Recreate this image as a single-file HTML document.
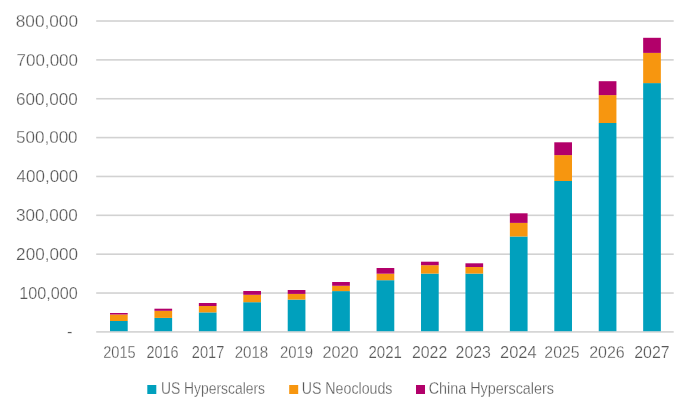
<!DOCTYPE html>
<html><head><meta charset="utf-8"><style>
html,body{margin:0;padding:0;background:#fff;}
body{width:695px;height:401px;overflow:hidden;}
svg{display:block;will-change:transform;}
text{font-family:"Liberation Sans",sans-serif;fill:#595959;stroke:#fff;stroke-width:0.25px;}
</style></head><body>
<svg width="695" height="401" viewBox="0 0 695 401">
<rect width="695" height="401" fill="#fff"/>
<rect x="96.2" y="331.10" width="577.50" height="1.6" fill="#d2d2d2"/>
<rect x="96.2" y="292.24" width="577.50" height="1.6" fill="#d2d2d2"/>
<rect x="96.2" y="253.38" width="577.50" height="1.6" fill="#d2d2d2"/>
<rect x="96.2" y="214.52" width="577.50" height="1.6" fill="#d2d2d2"/>
<rect x="96.2" y="175.66" width="577.50" height="1.6" fill="#d2d2d2"/>
<rect x="96.2" y="136.80" width="577.50" height="1.6" fill="#d2d2d2"/>
<rect x="96.2" y="97.94" width="577.50" height="1.6" fill="#d2d2d2"/>
<rect x="96.2" y="59.08" width="577.50" height="1.6" fill="#d2d2d2"/>
<rect x="96.2" y="20.22" width="577.50" height="1.6" fill="#d2d2d2"/>
<rect x="110.00" y="321.00" width="17.7" height="10.20" fill="#00a0bd"/>
<rect x="110.00" y="314.50" width="17.7" height="6.50" fill="#f7960f"/>
<rect x="110.00" y="313.00" width="17.7" height="1.50" fill="#b2006a"/>
<rect x="154.43" y="317.90" width="17.7" height="13.30" fill="#00a0bd"/>
<rect x="154.43" y="310.80" width="17.7" height="7.10" fill="#f7960f"/>
<rect x="154.43" y="308.70" width="17.7" height="2.10" fill="#b2006a"/>
<rect x="198.86" y="312.40" width="17.7" height="18.80" fill="#00a0bd"/>
<rect x="198.86" y="306.00" width="17.7" height="6.40" fill="#f7960f"/>
<rect x="198.86" y="303.00" width="17.7" height="3.00" fill="#b2006a"/>
<rect x="243.29" y="302.20" width="17.7" height="29.00" fill="#00a0bd"/>
<rect x="243.29" y="294.80" width="17.7" height="7.40" fill="#f7960f"/>
<rect x="243.29" y="291.00" width="17.7" height="3.80" fill="#b2006a"/>
<rect x="287.72" y="299.60" width="17.7" height="31.60" fill="#00a0bd"/>
<rect x="287.72" y="293.90" width="17.7" height="5.70" fill="#f7960f"/>
<rect x="287.72" y="290.00" width="17.7" height="3.90" fill="#b2006a"/>
<rect x="332.15" y="291.10" width="17.7" height="40.10" fill="#00a0bd"/>
<rect x="332.15" y="285.80" width="17.7" height="5.30" fill="#f7960f"/>
<rect x="332.15" y="282.00" width="17.7" height="3.80" fill="#b2006a"/>
<rect x="376.58" y="280.20" width="17.7" height="51.00" fill="#00a0bd"/>
<rect x="376.58" y="273.70" width="17.7" height="6.50" fill="#f7960f"/>
<rect x="376.58" y="268.00" width="17.7" height="5.70" fill="#b2006a"/>
<rect x="421.01" y="273.60" width="17.7" height="57.60" fill="#00a0bd"/>
<rect x="421.01" y="265.20" width="17.7" height="8.40" fill="#f7960f"/>
<rect x="421.01" y="261.70" width="17.7" height="3.50" fill="#b2006a"/>
<rect x="465.44" y="273.60" width="17.7" height="57.60" fill="#00a0bd"/>
<rect x="465.44" y="267.00" width="17.7" height="6.60" fill="#f7960f"/>
<rect x="465.44" y="263.30" width="17.7" height="3.70" fill="#b2006a"/>
<rect x="509.87" y="236.50" width="17.7" height="94.70" fill="#00a0bd"/>
<rect x="509.87" y="222.90" width="17.7" height="13.60" fill="#f7960f"/>
<rect x="509.87" y="213.30" width="17.7" height="9.60" fill="#b2006a"/>
<rect x="554.30" y="181.00" width="17.7" height="150.20" fill="#00a0bd"/>
<rect x="554.30" y="155.10" width="17.7" height="25.90" fill="#f7960f"/>
<rect x="554.30" y="142.30" width="17.7" height="12.80" fill="#b2006a"/>
<rect x="598.73" y="123.00" width="17.7" height="208.20" fill="#00a0bd"/>
<rect x="598.73" y="95.10" width="17.7" height="27.90" fill="#f7960f"/>
<rect x="598.73" y="81.20" width="17.7" height="13.90" fill="#b2006a"/>
<rect x="643.16" y="83.10" width="17.7" height="248.10" fill="#00a0bd"/>
<rect x="643.16" y="52.90" width="17.7" height="30.20" fill="#f7960f"/>
<rect x="643.16" y="37.80" width="17.7" height="15.10" fill="#b2006a"/>
<rect x="147.3" y="385.0" width="9" height="9" fill="#00a0bd"/>
<rect x="289.2" y="385.0" width="9" height="9" fill="#f7960f"/>
<rect x="416.0" y="385.0" width="9" height="9" fill="#b2006a"/>
<text x="72.50" y="337.40" text-anchor="end" font-size="16.6">-</text>
<text x="77.00" y="298.84" text-anchor="end" font-size="16.6" transform="matrix(0.9759 0 0 1.0 2.634 0.000)">100,000</text>
<text x="77.00" y="259.98" text-anchor="end" font-size="16.6" transform="matrix(1.0328 0 0 1.0 -1.490 0.000)">200,000</text>
<text x="77.00" y="221.12" text-anchor="end" font-size="16.6" transform="matrix(1.0310 0 0 1.0 -1.559 0.000)">300,000</text>
<text x="77.00" y="182.26" text-anchor="end" font-size="16.6" transform="matrix(1.0254 0 0 1.0 -0.932 0.000)">400,000</text>
<text x="77.00" y="143.40" text-anchor="end" font-size="16.6" transform="matrix(1.0276 0 0 1.0 -1.497 0.000)">500,000</text>
<text x="77.00" y="104.54" text-anchor="end" font-size="16.6" transform="matrix(1.0310 0 0 1.0 -1.559 0.000)">600,000</text>
<text x="77.00" y="65.68" text-anchor="end" font-size="16.6" transform="matrix(1.0259 0 0 1.0 -0.966 0.000)">700,000</text>
<text x="77.00" y="26.82" text-anchor="end" font-size="16.6" transform="matrix(1.0379 0 0 1.0 -1.883 0.000)">800,000</text>
<text x="118.85" y="357.80" text-anchor="middle" font-size="16.6" transform="matrix(0.8771 0 0 1.0 15.209 0.000)">2015</text>
<text x="163.28" y="357.80" text-anchor="middle" font-size="16.6" transform="matrix(0.8686 0 0 1.0 20.689 0.000)">2016</text>
<text x="207.71" y="357.80" text-anchor="middle" font-size="16.6" transform="matrix(0.8800 0 0 1.0 25.300 0.000)">2017</text>
<text x="252.14" y="357.80" text-anchor="middle" font-size="16.6" transform="matrix(0.9086 0 0 1.0 22.386 0.000)">2018</text>
<text x="296.57" y="357.80" text-anchor="middle" font-size="16.6" transform="matrix(0.8971 0 0 1.0 30.497 0.000)">2019</text>
<text x="341.00" y="357.80" text-anchor="middle" font-size="16.6" transform="matrix(0.9750 0 0 1.0 8.075 0.000)">2020</text>
<text x="385.43" y="357.80" text-anchor="middle" font-size="16.6" transform="matrix(0.9057 0 0 1.0 36.097 0.000)">2021</text>
<text x="429.86" y="357.80" text-anchor="middle" font-size="16.6" transform="matrix(0.9571 0 0 1.0 18.157 0.000)">2022</text>
<text x="474.29" y="357.80" text-anchor="middle" font-size="16.6" transform="matrix(0.9571 0 0 1.0 19.286 0.000)">2023</text>
<text x="518.72" y="357.80" text-anchor="middle" font-size="16.6" transform="matrix(0.9914 0 0 1.0 4.094 0.000)">2024</text>
<text x="563.15" y="357.80" text-anchor="middle" font-size="16.6" transform="matrix(0.9543 0 0 1.0 24.560 0.000)">2025</text>
<text x="607.58" y="357.80" text-anchor="middle" font-size="16.6" transform="matrix(0.9657 0 0 1.0 20.229 0.000)">2026</text>
<text x="652.01" y="357.80" text-anchor="middle" font-size="16.6" transform="matrix(0.9629 0 0 1.0 24.149 0.000)">2027</text>
<text x="161.90" y="394.10" text-anchor="start" font-size="15.5" transform="matrix(0.8965 0 0 1.06 15.767 -23.646)">US Hyperscalers</text>
<text x="302.80" y="394.10" text-anchor="start" font-size="15.5" transform="matrix(0.9165 0 0 1.06 24.186 -23.646)">US Neoclouds</text>
<text x="429.80" y="394.10" text-anchor="start" font-size="15.5" transform="matrix(0.9271 0 0 1.06 30.234 -23.646)">China Hyperscalers</text>
</svg>
</body></html>
